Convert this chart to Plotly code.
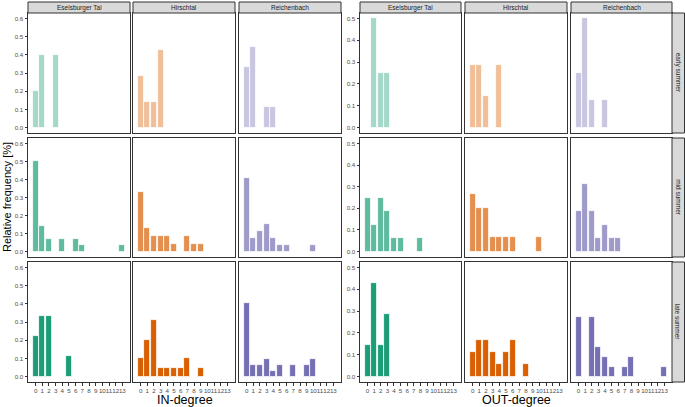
import plotly.graph_objects as go

W, H = 685, 407

sites = ["Eselsburger Tal", "Hirschtal", "Reichenbach"]
seasons = ["early summer", "mid summer", "late summer"]
site_colors = ["#1B9E77", "#D95F02", "#7570B3"]
season_alpha = [0.4, 0.7, 1.0]
degree_ticks = list(range(14))

# relative frequency by degree (index = degree)
in_early_eselsburger = [0.2, 0.4, 0, 0.4]
in_early_hirschtal = [0.286, 0.143, 0.143, 0.429]
in_early_reichenbach = [0.333, 0.444, 0, 0.111, 0.111]
in_mid_eselsburger = [0.5, 0.143, 0.071, 0, 0.071, 0, 0.071, 0.036, 0, 0, 0, 0, 0, 0.036]
in_mid_hirschtal = [0.33, 0.13, 0.087, 0.087, 0.087, 0.043, 0, 0.087, 0.043, 0.043]
in_mid_reichenbach = [0.41, 0.077, 0.115, 0.154, 0.077, 0.038, 0.038, 0, 0, 0, 0.038]
in_late_eselsburger = [0.222, 0.333, 0.333, 0, 0, 0.111]
in_late_hirschtal = [0.1, 0.2, 0.31, 0.045, 0.045, 0.045, 0.045, 0.1, 0, 0.045]
in_late_reichenbach = [0.406, 0.0625, 0.0625, 0.094, 0.031, 0.0625, 0, 0.0625, 0, 0.0625, 0.094]

out_early_eselsburger = [0, 0.5, 0.25, 0.25]
out_early_hirschtal = [0.286, 0.286, 0.143, 0, 0.286]
out_early_reichenbach = [0.25, 0.5, 0.125, 0, 0.125]
out_mid_eselsburger = [0.25, 0.125, 0.25, 0.1875, 0.0625, 0.0625, 0, 0, 0.0625]
out_mid_hirschtal = [0.267, 0.2, 0.2, 0.067, 0.067, 0.067, 0.067, 0, 0, 0, 0.067]
out_mid_reichenbach = [0.1875, 0.3125, 0.1875, 0.0625, 0.125, 0.0625, 0.0625]
out_late_eselsburger = [0.143, 0.429, 0.143, 0.286]
out_late_hirschtal = [0.111, 0.167, 0.167, 0.111, 0.056, 0.111, 0.167, 0, 0.056]
out_late_reichenbach = [0.273, 0, 0.273, 0.136, 0.091, 0.045, 0, 0.045, 0.091, 0, 0, 0, 0, 0.045]

in_rows = [
    [in_early_eselsburger, in_early_hirschtal, in_early_reichenbach],
    [in_mid_eselsburger, in_mid_hirschtal, in_mid_reichenbach],
    [in_late_eselsburger, in_late_hirschtal, in_late_reichenbach],
]
out_rows = [
    [out_early_eselsburger, out_early_hirschtal, out_early_reichenbach],
    [out_mid_eselsburger, out_mid_hirschtal, out_mid_reichenbach],
    [out_late_eselsburger, out_late_hirschtal, out_late_reichenbach],
]

# pixel layout of the facets
blocks = [
    dict(rows=in_rows, cols=[(28, 130), (133, 235), (239, 341)],
         yrange=[-0.03, 0.63], yticks=[0, 0.1, 0.2, 0.3, 0.4, 0.5, 0.6],
         title="IN-degree", row_strips=False),
    dict(rows=out_rows, cols=[(360, 461), (465, 567), (571, 672)],
         yrange=[-0.025, 0.525], yticks=[0, 0.1, 0.2, 0.3, 0.4, 0.5],
         title="OUT-degree", row_strips=True),
]
row_px = [(13, 133), (138, 257), (262, 382)]
border = "#333333"
font_family = "Liberation Sans, Arial"
tick_font = dict(family=font_family, size=6.2, color="#4D4D4D")
strip_font = dict(family=font_family, size=6.5, color="#1A1A1A")


def px_x(p):
    return p / W


def px_y(p):
    return 1 - p / H


def rgba(hex_color, a):
    h = hex_color.lstrip("#")
    r, g, b = int(h[0:2], 16), int(h[2:4], 16), int(h[4:6], 16)
    return f"rgba({r},{g},{b},{a})"


def label(text, x, y, font, angle=0):
    return dict(text=text, xref="paper", yref="paper", x=px_x(x), y=px_y(y),
                xanchor="center", yanchor="middle", showarrow=False,
                textangle=angle, font=font)


fig = go.Figure()
layout = {}
shapes = []
annotations = []
n = 0
for block in blocks:
    for ri, (y0, y1) in enumerate(row_px):
        for ci, (x0, x1) in enumerate(block["cols"]):
            n += 1
            sfx = "" if n == 1 else str(n)
            vals = block["rows"][ri][ci]
            xs = [d for d, v in enumerate(vals) if v > 0]
            ys = [v for v in vals if v > 0]
            fig.add_trace(
                go.Bar(
                    x=xs,
                    y=ys,
                    width=0.9,
                    marker=dict(
                        color=rgba(site_colors[ci], season_alpha[ri]),
                        line=dict(color="white", width=0.8),
                    ),
                    xaxis="x" + sfx,
                    yaxis="y" + sfx,
                    showlegend=False,
                    hovertemplate="degree %{x}: %{y:.3f}<extra></extra>",
                )
            )
            bottom = ri == 2
            first = ci == 0
            layout["xaxis" + sfx] = dict(
                domain=[px_x(x0), px_x(x1)],
                anchor="y" + sfx,
                range=[-1.145, 14.145],
                automargin=False,
                showgrid=False,
                zeroline=False,
                showline=True,
                mirror=True,
                linecolor=border,
                linewidth=1,
                ticks="outside" if bottom else "",
                ticklen=2.5,
                tickcolor=border,
                tickmode="array",
                tickvals=degree_ticks,
                ticktext=[str(d) for d in degree_ticks],
                showticklabels=bottom,
                tickangle=0,
                tickfont=tick_font,
            )
            layout["yaxis" + sfx] = dict(
                domain=[px_y(y1), px_y(y0)],
                anchor="x" + sfx,
                range=block["yrange"],
                automargin=False,
                showgrid=False,
                zeroline=False,
                showline=True,
                mirror=True,
                linecolor=border,
                linewidth=1,
                ticks="outside" if first else "",
                ticklen=2.5,
                tickcolor=border,
                tickmode="array",
                tickvals=block["yticks"],
                ticktext=[f"{t:.1f}" for t in block["yticks"]],
                showticklabels=first,
                tickfont=tick_font,
            )
            # column strips on top
            if ri == 0:
                shapes.append(dict(type="rect", xref="paper", yref="paper",
                                   x0=px_x(x0), x1=px_x(x1), y0=px_y(13), y1=px_y(2),
                                   fillcolor="#D9D9D9", line=dict(color=border, width=1)))
                annotations.append(label(sites[ci], (x0 + x1) / 2, 7.5, strip_font))
        # row strips on the right of the OUT block
        if block["row_strips"]:
            shapes.append(dict(type="rect", xref="paper", yref="paper",
                               x0=px_x(672), x1=px_x(684.5), y0=px_y(y1), y1=px_y(y0),
                               fillcolor="#D9D9D9", line=dict(color=border, width=1)))
            annotations.append(label(seasons[ri], 678.3, (y0 + y1) / 2, strip_font, 90))
    cx = (block["cols"][0][0] + block["cols"][2][1]) / 2
    annotations.append(label(block["title"], cx, 399.5,
                             dict(family=font_family, size=12.5, color="black")))

annotations.append(label("Relative frequency [%]", 7, 197,
                         dict(family=font_family, size=11, color="black"), -90))

fig.update_layout(
    width=W,
    height=H,
    margin=dict(l=0, r=0, t=0, b=0),
    paper_bgcolor="white",
    plot_bgcolor="white",
    bargap=0,
    shapes=shapes,
    annotations=annotations,
    **layout,
)

fig.write_html(
    "out.html",
    config={"displayModeBar": False},
    post_script="document.body.style.margin='0';",
)
